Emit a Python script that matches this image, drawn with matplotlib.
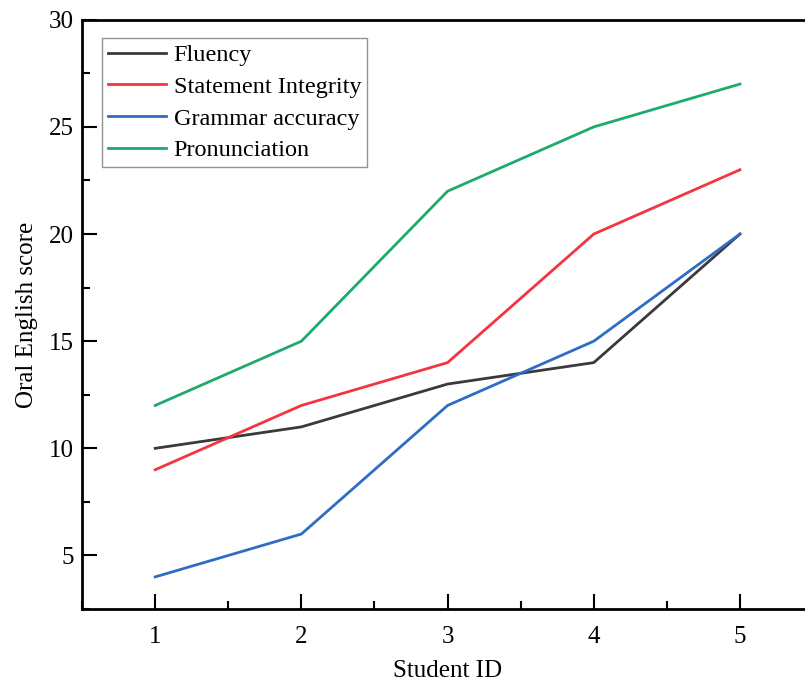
import matplotlib.pyplot as plt
from matplotlib.ticker import MultipleLocator

student_id = [1, 2, 3, 4, 5]
fluency = [10, 11, 13, 14, 20]
statement_integrity = [9, 12, 14, 20, 23]
grammar_accuracy = [4, 6, 12, 15, 20]
pronunciation = [12, 15, 22, 25, 27]

plt.rcParams['font.family'] = ['Liberation Serif', 'DejaVu Serif']

fig = plt.figure(figsize=(8.05, 6.82), dpi=100)
ax = fig.add_axes([0.102, 0.107, 0.908, 0.864])

ax.plot(student_id, fluency, color='#3a3a3a', lw=2, label='Fluency')
ax.plot(student_id, statement_integrity, color='#f2353f', lw=2, label='Statement Integrity')
ax.plot(student_id, grammar_accuracy, color='#2f6cc4', lw=2, label='Grammar accuracy')
ax.plot(student_id, pronunciation, color='#1daa6c', lw=2, label='Pronunciation')

ax.set_xlim(0.5, 5.5)
ax.set_ylim(2.5, 30)
ax.xaxis.set_major_locator(MultipleLocator(1))
ax.xaxis.set_minor_locator(MultipleLocator(0.5))
ax.yaxis.set_major_locator(MultipleLocator(5))
ax.yaxis.set_minor_locator(MultipleLocator(2.5))
ax.tick_params(which='major', direction='in', length=11, width=1.5, labelsize=18)
ax.tick_params(which='minor', direction='in', length=6, width=1.5)
ax.tick_params(axis='x', which='major', pad=12)
ax.tick_params(axis='y', which='major', pad=6)
for s in ax.spines.values():
    s.set_linewidth(2)

ax.set_xlabel('Student ID', fontsize=18, labelpad=9)
ax.set_ylabel('Oral English score', fontsize=18, labelpad=8)

leg = ax.legend(loc='upper left', fontsize=17.5, fancybox=False, edgecolor='#777777',
                handlelength=2.4, handletextpad=0.3, labelspacing=0.4,
                borderpad=0.25, borderaxespad=0, bbox_to_anchor=(0.027, 0.969))
leg.get_frame().set_linewidth(1)

fig.savefig('out.png', dpi=100)
